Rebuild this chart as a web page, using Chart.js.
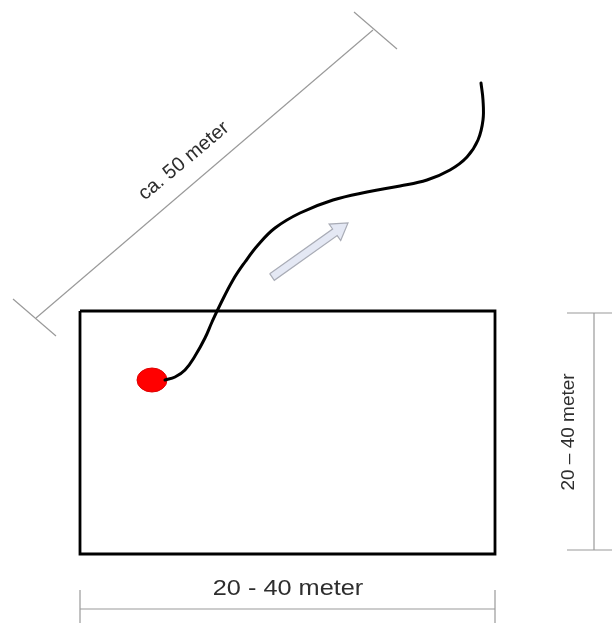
<!DOCTYPE html>
<html><head><meta charset="utf-8">
<script src="https://cdn.jsdelivr.net/npm/chart.js@4.4.0/dist/chart.umd.min.js"></script>
<style>html,body{margin:0;padding:0;background:#fff}#wrap{width:612px;height:623px}</style>
</head><body><div id="wrap"><canvas id="c"></canvas></div>
<script>
// Diagram data (drawn in a 612 x 623 value space)
const rectX = [80, 495, 495, 80, 80];
const rectY = [311, 311, 554, 554, 311];
const pathX = [165,175,185,195,205,212,220,233,245,258,275,300,333,367,400,427,450,467,478,483,483,481];
const pathY = [380,377,370,356,338,322,305,280,262,245,228,213,200,192,186,180,170,157,140,120,100,83];
const startX = [152];
const startY = [380];
const arrowX = [269.7,332.6,329.1,348,340.7,337.2,274.3,269.7];
const arrowY = [273.7,229.0,224.1,223,240.5,235.6,280.3,273.7];
const diagLineX = [36,373];  const diagLineY = [318,30];
const diagTickAX = [13,56];  const diagTickAY = [299,336];
const diagTickBX = [354,397]; const diagTickBY = [12,49];
const bottomLineX = [80,495]; const bottomLineY = [609,609];
const bottomTickAX = [80,80]; const bottomTickAY = [590,623];
const bottomTickBX = [495,495]; const bottomTickBY = [590,623];
const rightLineX = [594,594]; const rightLineY = [313,550];
const rightTickAX = [567,612]; const rightTickAY = [313,313];
const rightTickBX = [567,612]; const rightTickBY = [550,550];
const labelTexts = ["ca. 50 meter", "20 - 40 meter", "20 \u2013 40 meter"];
const labelX = [184, 288, 569];
const labelY = [161, 589, 432];
const labelAngle = [-39.8, 0, -90];

const pts = (xs, ys) => xs.map((x, i) => ({x, y: ys[i]}));
const dim = (xs, ys) => ({data: pts(xs, ys), showLine: true, borderColor: '#9a9a9a', borderWidth: 1.2, pointRadius: 0, tension: 0});

// ellipse marker for the start point
const dot = document.createElement('canvas');
dot.width = 32; dot.height = 26;
(() => { const g = dot.getContext('2d'); g.fillStyle = '#ff0000'; g.strokeStyle = '#dd0000'; g.lineWidth = 1;
  g.beginPath(); g.ellipse(16, 13, 15, 12, 0, 0, Math.PI * 2); g.fill(); g.stroke(); })();

// label styling (font size, horizontal stretch)
const labelStyle = [{size: 20, sx: 1.0}, {size: 22, sx: 1.15}, {size: 19, sx: 1.0}];

const labelPlugin = {
  id: 'labels',
  afterDatasetsDraw(chart) {
    const {ctx, scales: {x, y}} = chart;
    ctx.save();
    ctx.fillStyle = '#2e2e2e';
    ctx.textAlign = 'center';
    ctx.textBaseline = 'middle';
    labelTexts.forEach((t, i) => {
      ctx.save();
      ctx.translate(x.getPixelForValue(labelX[i]), y.getPixelForValue(labelY[i]));
      ctx.rotate(labelAngle[i] * Math.PI / 180);
      ctx.scale(labelStyle[i].sx, 1);
      ctx.font = labelStyle[i].size + 'px "Liberation Sans", Arial, sans-serif';
      ctx.fillText(t, 0, 0);
      ctx.restore();
    });
    ctx.restore();
  }
};

new Chart(document.getElementById('c'), {
  type: 'scatter',
  data: {
    datasets: [
      dim(diagLineX, diagLineY), dim(diagTickAX, diagTickAY), dim(diagTickBX, diagTickBY),
      dim(bottomLineX, bottomLineY), dim(bottomTickAX, bottomTickAY), dim(bottomTickBX, bottomTickBY),
      dim(rightLineX, rightLineY), dim(rightTickAX, rightTickAY), dim(rightTickBX, rightTickBY),
      {data: pts(rectX, rectY), showLine: true, borderColor: '#000', borderWidth: 2.8, pointRadius: 0, tension: 0},
      {data: pts(arrowX, arrowY), showLine: true, borderColor: '#a9acb6', backgroundColor: '#e4e8f4', fill: 'shape', borderWidth: 1.2, pointRadius: 0, tension: 0},
      {data: pts(pathX, pathY), showLine: true, borderColor: '#000', borderWidth: 3, pointRadius: 0, tension: 0.4, borderCapStyle: 'round'},
      {data: pts(startX, startY), pointStyle: dot, pointRadius: 13}
    ]
  },
  options: {
    responsive: true, maintainAspectRatio: false, animation: false,
    layout: {padding: 0, autoPadding: false},
    events: [],
    plugins: {legend: {display: false}, tooltip: {enabled: false}},
    scales: {
      x: {type: 'linear', min: 0, max: 612, display: false},
      y: {type: 'linear', min: 0, max: 623, reverse: true, display: false}
    }
  },
  plugins: [labelPlugin]
});
</script></body></html>
